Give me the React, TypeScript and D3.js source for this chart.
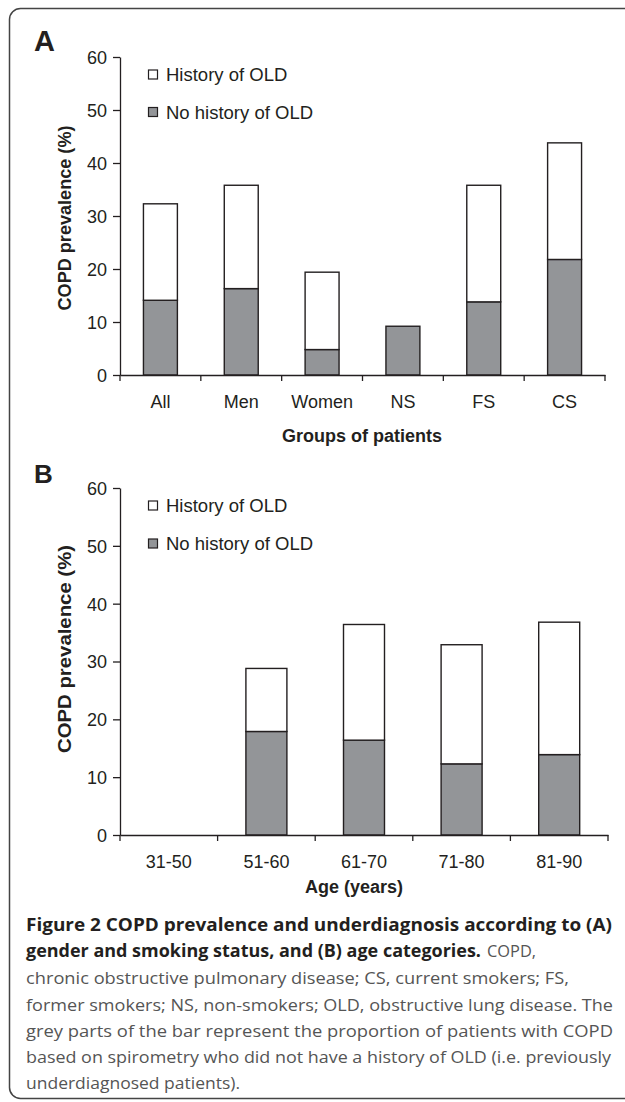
import React, { useEffect, useRef } from 'react';
import * as d3 from 'd3';

// Panel A: gender and smoking status
const groupsA = ['All', 'Men', 'Women', 'NS', 'FS', 'CS'];
const noHistoryA = [14.1, 16.3, 4.8, 9.2, 13.8, 21.8];
const historyA = [18.2, 19.5, 14.6, 0, 22.0, 22.0];

// Panel B: age categories
const groupsB = ['31-50', '51-60', '61-70', '71-80', '81-90'];
const noHistoryB = [0, 17.9, 16.4, 12.3, 13.9];
const historyB = [0, 10.9, 20.0, 20.6, 22.9];

const yTicks = [0, 10, 20, 30, 40, 50, 60];
const seriesKeys = ['history', 'noHistory'];
const seriesLabels = ['History of OLD', 'No history of OLD'];

const INK = '#231f20';
const GREY = '#939598';
const FONT = '"Liberation Sans", Arial, sans-serif';
const CAPTION_FONT = '"Open Sans", "Noto Sans", sans-serif';

const App: React.FC = () => {
  const ref = useRef<SVGSVGElement>(null);

  useEffect(() => {
    const svg = d3.select(ref.current);
    svg.selectAll('*').remove();

    // outer frame (right side runs off the page)
    svg.append('rect')
      .attr('x', 9.5).attr('y', 8.5)
      .attr('width', 720).attr('height', 1090)
      .attr('rx', 11)
      .attr('fill', 'none')
      .attr('stroke', '#444')
      .attr('stroke-width', 1.5);

    const color = d3.scaleOrdinal<string, string>()
      .domain(seriesKeys)
      .range(['#ffffff', GREY]);

    const drawPanel = (p) => {
      const g = svg.append('g');
      const rows = p.cats.map((c, i) => ({ cat: c, noHistory: p.grey[i], history: p.white[i] }));

      const x = d3.scaleBand()
        .domain(p.cats)
        .range(p.xRange)
        .paddingInner(0.58)
        .paddingOuter(0.29);

      const y = d3.scaleLinear().domain([0, 60]).range(p.yRange);

      // grey part at the bottom, white part on top
      const stacked = d3.stack().keys(['noHistory', 'history'])(rows);

      g.selectAll('g.layer')
        .data(stacked)
        .enter().append('g')
        .attr('class', 'layer')
        .attr('fill', (d) => color(d.key))
        .selectAll('rect')
        .data((d) => d.filter((s) => s[1] - s[0] > 0))
        .enter().append('rect')
        .attr('x', (d) => x(d.data.cat))
        .attr('y', (d) => y(d[1]))
        .attr('width', x.bandwidth())
        .attr('height', (d) => y(d[0]) - y(d[1]))
        .attr('stroke', INK)
        .attr('stroke-width', 1.4);

      // y axis
      const yAxis = g.append('g')
        .attr('transform', `translate(${p.xRange[0]},0)`)
        .call(d3.axisLeft(y).tickValues(yTicks).tickSize(7).tickSizeOuter(0).tickPadding(6))
        .attr('font-size', 18)
        .attr('font-family', FONT);
      yAxis.selectAll('text').attr('fill', INK).attr('dy', '0.36em');
      yAxis.selectAll('line, path').attr('stroke', INK).attr('stroke-width', 1.3);

      // x axis: labels under the bars, ticks between the bands
      const xAxis = g.append('g')
        .attr('transform', `translate(0,${y(0)})`)
        .call(d3.axisBottom(x).tickSize(0).tickSizeOuter(0).tickPadding(20))
        .attr('font-size', 18)
        .attr('font-family', FONT);
      xAxis.selectAll('text').attr('fill', INK);
      xAxis.selectAll('path').attr('stroke', INK).attr('stroke-width', 1.3);

      const bounds = d3.range(p.cats.length + 1).map((i) => p.xRange[0] + i * x.step());
      g.selectAll('line.xtick')
        .data(bounds)
        .enter().append('line')
        .attr('class', 'xtick')
        .attr('x1', (d) => d).attr('x2', (d) => d)
        .attr('y1', y(0)).attr('y2', y(0) + 6)
        .attr('stroke', INK)
        .attr('stroke-width', 1.3);

      // axis titles
      g.append('text')
        .attr('transform', `translate(${p.yTitleX},${p.yTitleY}) rotate(-90)`)
        .attr('text-anchor', 'middle')
        .attr('font-family', FONT)
        .attr('font-weight', 'bold')
        .attr('font-size', 17.5)
        .attr('textLength', p.yTitleLen)
        .attr('lengthAdjust', 'spacingAndGlyphs')
        .attr('fill', INK)
        .text('COPD prevalence (%)');

      g.append('text')
        .attr('x', p.xTitleX).attr('y', p.xTitleY)
        .attr('text-anchor', 'middle')
        .attr('font-family', FONT)
        .attr('font-weight', 'bold')
        .attr('font-size', 18)
        .attr('fill', INK)
        .text(p.xTitle);

      // panel letter
      g.append('text')
        .attr('x', 34).attr('y', p.letterY)
        .attr('font-family', FONT)
        .attr('font-weight', 'bold')
        .attr('font-size', p.letterSize)
        .attr('fill', INK)
        .text(p.letter);

      // legend
      const leg = g.selectAll('g.leg')
        .data(seriesKeys)
        .enter().append('g')
        .attr('class', 'leg')
        .attr('transform', (d, i) => `translate(148.5,${p.legendY[i]})`);
      leg.append('rect')
        .attr('x', 0).attr('y', -4.5)
        .attr('width', 9).attr('height', 9)
        .attr('fill', (d) => color(d))
        .attr('stroke', INK)
        .attr('stroke-width', 1.2);
      leg.append('text')
        .attr('x', 17.5).attr('y', 6.5)
        .attr('font-family', FONT)
        .attr('font-size', 18.5)
        .attr('fill', INK)
        .text((d, i) => seriesLabels[i]);
    };

    drawPanel({
      letter: 'A', letterY: 51, letterSize: 29,
      cats: groupsA, grey: noHistoryA, white: historyA,
      xRange: [120, 605], yRange: [375, 57],
      legendY: [74.5, 112],
      yTitleX: 71, yTitleY: 218, yTitleLen: 185,
      xTitle: 'Groups of patients', xTitleX: 362, xTitleY: 442,
    });

    drawPanel({
      letter: 'B', letterY: 483, letterSize: 26,
      cats: groupsB, grey: noHistoryB, white: historyB,
      xRange: [120, 608], yRange: [835, 488],
      legendY: [505.5, 543.5],
      yTitleX: 71, yTitleY: 649, yTitleLen: 208,
      xTitle: 'Age (years)', xTitleX: 354, xTitleY: 893,
    });

    // figure caption
    const caption = [
      { y: 931, parts: [{ t: 'Figure 2 COPD prevalence and underdiagnosis according to (A)', x: 26, w: 586, b: true }] },
      { y: 957, parts: [
        { t: 'gender and smoking status, and (B) age categories.', x: 26, w: 455, b: true },
        { t: 'COPD,', x: 487, w: 49, b: false },
      ] },
      { y: 984, parts: [{ t: 'chronic obstructive pulmonary disease; CS, current smokers; FS,', x: 26, w: 543, b: false }] },
      { y: 1010.5, parts: [{ t: 'former smokers; NS, non-smokers; OLD, obstructive lung disease. The', x: 26, w: 587, b: false }] },
      { y: 1037, parts: [{ t: 'grey parts of the bar represent the proportion of patients with COPD', x: 26, w: 587, b: false }] },
      { y: 1063, parts: [{ t: 'based on spirometry who did not have a history of OLD (i.e. previously', x: 26, w: 585, b: false }] },
      { y: 1089, parts: [{ t: 'underdiagnosed patients).', x: 26, w: 214, b: false }] },
    ];
    caption.forEach((line) => {
      line.parts.forEach((part) => {
        svg.append('text')
          .attr('x', part.x).attr('y', line.y)
          .attr('font-family', CAPTION_FONT)
          .attr('font-size', 17)
          .attr('font-weight', part.b ? 'bold' : 'normal')
          .attr('fill', part.b ? INK : '#555')
          .attr('textLength', part.w)
          .attr('lengthAdjust', 'spacingAndGlyphs')
          .text(part.t);
      });
    });
  }, []);

  return (
    <svg
      ref={ref}
      width={625}
      height={1102}
      style={{ position: 'absolute', left: 0, top: 0, display: 'block', background: '#fff' }}
    />
  );
};

export default App;
